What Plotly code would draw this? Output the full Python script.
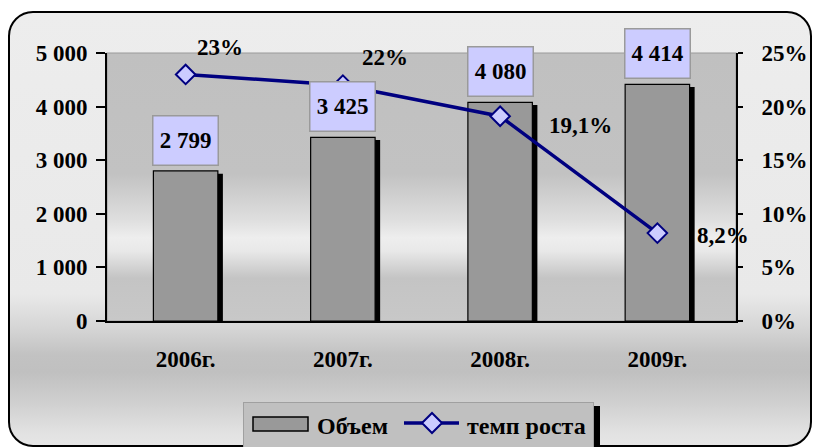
import base64
import plotly.graph_objects as go

# ---- data ----
years = ["2006г.", "2007г.", "2008г.", "2009г."]
volume = [2799, 3425, 4080, 4414]
growth_pct = [23, 22, 19.1, 8.2]

volume_ticks = [0, 1000, 2000, 3000, 4000, 5000]
pct_ticks = [0, 5, 10, 15, 20, 25]

series_names = ["Объем", "темп роста"]

# ---- styling ----
FONT = "Liberation Serif"
FS = 23
W, H = 813, 447
L, R, T, B = 107, 77, 53, 126
PW, PH = W - L - R, H - T - B

BAR_W = 0.41
SHADOW_DX = 0.032          # shadow shift, in category units
SHADOW_DROP = 50           # shadow top sits a little lower, in value units
NAVY = "#000080"
LAVENDER = "#ccccff"
BAR_GREY = "#999999"
CAT_RANGE = [-0.5, len(years) - 0.5]
BOUNDARIES = [i + 0.5 for i in range(len(years) - 1)]

# offsets (px) of the growth labels from their markers
pct_label_shift = [(34, 27), (42, 28), (80, -9), (66, -2)]


def px(xp):
    return (xp - L) / PW


def py(yp):
    return (T + PH - yp) / PH


# background: rounded frame with a metallic gradient, shaded plot area, legend box
svg = f"""<svg xmlns="http://www.w3.org/2000/svg" width="{W}" height="{H}" viewBox="0 0 {W} {H}">
<defs>
<linearGradient id="o" x1="0" y1="0" x2="0" y2="1">
<stop offset="0" stop-color="#ededed"/>
<stop offset="0.65" stop-color="#e9e9e9"/>
<stop offset="0.733" stop-color="#d4d4d4"/>
<stop offset="0.79" stop-color="#c2c2c2"/>
<stop offset="0.83" stop-color="#c0c0c0"/>
<stop offset="0.894" stop-color="#cecece"/>
<stop offset="0.97" stop-color="#e2e2e2"/>
<stop offset="1" stop-color="#e6e6e6"/>
</linearGradient>
<linearGradient id="p" x1="0" y1="0" x2="0" y2="1">
<stop offset="0" stop-color="#c0c0c0"/>
<stop offset="0.45" stop-color="#c2c2c2"/>
<stop offset="0.62" stop-color="#dedede"/>
<stop offset="0.69" stop-color="#eeeeee"/>
<stop offset="0.74" stop-color="#e8e8e8"/>
<stop offset="0.84" stop-color="#c4c4c4"/>
<stop offset="1" stop-color="#c8c8c8"/>
</linearGradient>
</defs>
<rect x="9" y="12" width="802" height="434" rx="24" ry="24" fill="url(#o)" stroke="#000" stroke-width="2"/>
<rect x="{L}" y="{T}" width="{PW}" height="{PH}" fill="url(#p)" stroke="#9a9a9a" stroke-width="1"/>
<rect x="594" y="406" width="6" height="43" fill="#000"/>
<rect x="243.5" y="402.5" width="350" height="50" fill="#c0c0c0" stroke="#a0a0a0" stroke-width="1"/>
</svg>"""
svg_uri = "data:image/svg+xml;base64," + base64.b64encode(svg.encode("utf-8")).decode("ascii")

fig = go.Figure()

# bar shadows
fig.add_trace(go.Bar(
    x=years, y=[v - SHADOW_DROP for v in volume],
    width=BAR_W, offset=-BAR_W / 2 + SHADOW_DX,
    marker=dict(color="#000000", line=dict(width=0)),
    showlegend=False, hoverinfo="skip",
))
# volume bars
fig.add_trace(go.Bar(
    x=years, y=volume, name=series_names[0],
    width=BAR_W, offset=-BAR_W / 2,
    marker=dict(color=BAR_GREY, line=dict(color="#000000", width=1.2)),
    showlegend=False,
))
# growth rate line
fig.add_trace(go.Scatter(
    x=years, y=growth_pct, name=series_names[1], yaxis="y2",
    mode="lines+markers",
    line=dict(color=NAVY, width=3.5),
    marker=dict(symbol="diamond", size=15, color=LAVENDER,
                line=dict(color=NAVY, width=2)),
    showlegend=False,
))

bold = dict(family=FONT, size=FS, color="#000", weight="bold")
legend_font = dict(family=FONT, size=24, color="#000", weight="bold")

annotations = []
for yr, v in zip(years, volume):
    annotations.append(dict(
        x=yr, y=v, xref="x", yref="y", yanchor="bottom", yshift=5,
        text=f"{v:,}".replace(",", " "), showarrow=False, font=bold,
        bgcolor=LAVENDER, bordercolor="#9a9a9a", borderwidth=1.5,
        width=62, height=46, borderpad=1,
    ))
for yr, p, (dx, dy) in zip(years, growth_pct, pct_label_shift):
    annotations.append(dict(
        x=yr, y=p, xref="x", yref="y2", xshift=dx, yshift=dy,
        text=f"{p:g}".replace(".", ",") + "%", showarrow=False, font=bold,
    ))

# legend entries
annotations.append(dict(x=px(315), y=py(426), xref="paper", yref="paper",
                        xanchor="left", yanchor="middle", showarrow=False,
                        text=series_names[0], font=legend_font))
annotations.append(dict(x=px(465), y=py(426), xref="paper", yref="paper",
                        xanchor="left", yanchor="middle", showarrow=False,
                        text=series_names[1], font=legend_font))

cx, cy, hw = 432, 423, 10
legend_shapes = [
    dict(type="rect", xref="paper", yref="paper",
         x0=px(253), x1=px(308), y0=py(431), y1=py(417),
         fillcolor=BAR_GREY, line=dict(color="#000", width=1.5)),
    dict(type="line", xref="paper", yref="paper",
         x0=px(404), x1=px(459), y0=py(cy), y1=py(cy),
         line=dict(color=NAVY, width=3.5)),
    dict(type="path", xref="paper", yref="paper",
         path=(f"M {px(cx - hw)} {py(cy)} L {px(cx)} {py(cy - hw)} "
               f"L {px(cx + hw)} {py(cy)} L {px(cx)} {py(cy + hw)} Z"),
         fillcolor=LAVENDER, line=dict(color=NAVY, width=2)),
]

axis_common = dict(showgrid=False, zeroline=False, tickcolor="#000",
                   tickwidth=1.5, automargin=False)

fig.update_layout(
    width=W, height=H,
    margin=dict(l=L, r=R, t=T, b=B, pad=0, autoexpand=False),
    paper_bgcolor="#ffffff", plot_bgcolor="rgba(0,0,0,0)",
    barmode="overlay",
    showlegend=False,
    font=dict(family=FONT, color="#000"),
    xaxis=dict(**axis_common, type="category", range=CAT_RANGE, showline=True,
               linecolor="#000", linewidth=2, ticks="", tickfont=bold,
               ticklabelstandoff=16),
    xaxis2=dict(**axis_common, overlaying="x", anchor="y", side="bottom",
                range=CAT_RANGE, tickvals=BOUNDARIES, ticks="outside",
                ticklen=6, showticklabels=False, showline=False),
    xaxis3=dict(**axis_common, overlaying="x", anchor="y", side="bottom",
                range=CAT_RANGE, tickvals=BOUNDARIES, ticks="inside",
                ticklen=6, showticklabels=False, showline=False),
    yaxis=dict(**axis_common, range=[0, 5000], tickvals=volume_ticks,
               ticktext=[f"{t:,}".replace(",", " ") for t in volume_ticks],
               ticks="outside", ticklen=9,
               showline=True, linecolor="#000", linewidth=2,
               tickfont=bold, ticklabelstandoff=4),
    yaxis2=dict(**axis_common, overlaying="y", side="right", anchor="x",
                range=[0, 25], tickvals=pct_ticks,
                ticktext=[f"{t}%" for t in pct_ticks],
                ticks="outside", ticklen=5, showline=True, linecolor="#000",
                linewidth=2, tickfont=bold, ticklabelstandoff=14),
    yaxis3=dict(**axis_common, overlaying="y", side="left", anchor="x",
                range=[0, 5000], tickvals=volume_ticks, ticks="inside",
                ticklen=7, showticklabels=False, showline=False),
    yaxis4=dict(**axis_common, overlaying="y", side="right", anchor="x",
                range=[0, 25], tickvals=pct_ticks, ticks="inside",
                ticklen=8, showticklabels=False, showline=False),
    annotations=annotations,
    shapes=legend_shapes,
    images=[dict(source=svg_uri, xref="paper", yref="paper",
                 x=-L / PW, y=(T + PH) / PH, sizex=W / PW, sizey=H / PH,
                 xanchor="left", yanchor="top", sizing="stretch",
                 layer="below")],
    hovermode=False,
)

fig.write_html("out.html")
